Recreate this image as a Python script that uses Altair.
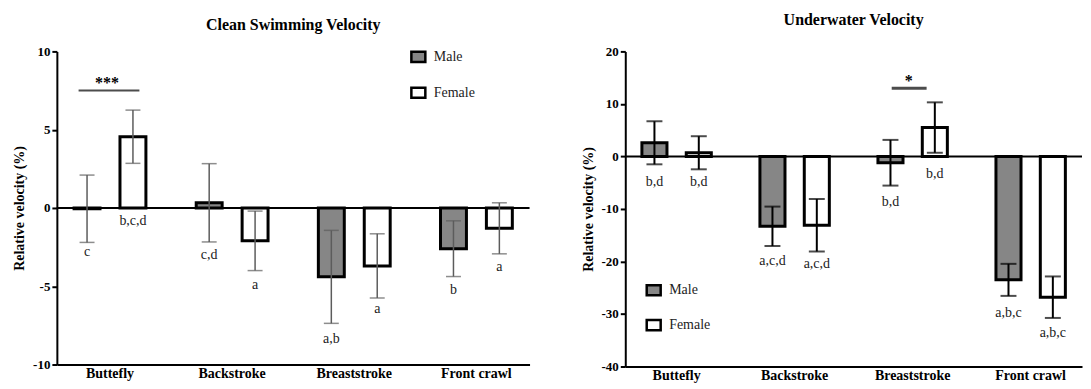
import altair as alt
import pandas as pd

strokes = ["Buttefly", "Backstroke", "Breaststroke", "Front crawl"]
sexes = ["Male", "Female"]

# Clean Swimming Velocity
clean_male_mean = [-0.05, 0.33, -4.4, -2.6]
clean_male_sd = [2.15, 2.5, 2.97, 1.78]
clean_female_mean = [4.55, -2.1, -3.7, -1.3]
clean_female_sd = [1.7, 1.9, 2.05, 1.63]
clean_male_letters = ["c", "c,d", "a,b", "b"]
clean_female_letters = ["b,c,d", "a", "a", "a"]
clean_male_letter_y = [-2.82, -3.0, -8.34, -5.27]
clean_female_letter_y = [-0.81, -4.9, -6.48, -3.78]
clean_ticks = [10, 5, 0, -5, -10]

# Underwater Velocity
under_male_mean = [2.6, -13.3, -1.2, -23.5]
under_male_sd = [4.1, 3.75, 4.35, 3.05]
under_female_mean = [0.7, -13.1, 5.5, -26.8]
under_female_sd = [3.15, 5.0, 4.8, 3.95]
under_male_letters = ["b,d", "a,c,d", "b,d", "a,b,c"]
under_female_letters = ["b,d", "a,c,d", "b,d", "a,b,c"]
under_male_letter_y = [-4.8, -20.0, -8.6, -29.8]
under_female_letter_y = [-4.8, -20.4, -3.25, -33.6]
under_ticks = [20, 10, 0, -10, -20, -30, -40]

SERIF = "Liberation Serif"


def build_df(mm, ms, fm, fs, ml, fl, mly, fly):
    rows = []
    for i, s in enumerate(strokes):
        rows.append(dict(stroke=s, sex="Male", mean=mm[i], lo=mm[i] - ms[i], hi=mm[i] + ms[i],
                         letter=ml[i], ly=mly[i]))
        rows.append(dict(stroke=s, sex="Female", mean=fm[i], lo=fm[i] - fs[i], hi=fm[i] + fs[i],
                         letter=fl[i], ly=fly[i]))
    return pd.DataFrame(rows)


def panel(title, df, ydomain, yticks, width, height, err_color, err_w, cap_size,
          sig_group, sig_y, sig_len, sig_dx, sig_thick, star_text, star_y, star_dx,
          leg_x, leg_y, leg_pad, title_offset):
    yscale = alt.Scale(domain=ydomain, nice=False, zero=False)
    yaxis = alt.Axis(values=yticks, title="Relative velocity (%)", labelExpr="'' + datum.value",
                     domainColor="black", domainWidth=2, tickColor="black", tickWidth=2,
                     tickSize=5, labelFont=SERIF, labelFontWeight="bold", labelFontSize=13,
                     labelColor="black", labelPadding=2, titleFont=SERIF, titleFontSize=14,
                     titleFontWeight="bold", titleColor="black", titlePadding=6)
    xscale = alt.Scale(domain=strokes, paddingInner=0.13, paddingOuter=0.0)
    xaxis = alt.Axis(title=None, ticks=False, domainColor="black", domainWidth=2,
                     labelFont=SERIF, labelFontWeight="bold", labelFontSize=14,
                     labelColor="black", labelPadding=2, labelAngle=0)
    X = alt.X("stroke:N", scale=xscale, axis=xaxis)
    XO = alt.XOffset("sex:N", scale=alt.Scale(domain=sexes, paddingInner=0.435, paddingOuter=0.375))

    base = alt.Chart(df)
    bars = base.mark_bar(stroke="black", strokeWidth=3).encode(
        x=X, xOffset=XO,
        y=alt.Y("mean:Q", scale=yscale, axis=yaxis),
        fill=alt.Fill("sex:N", scale=alt.Scale(domain=sexes, range=["#868686", "#ffffff"]),
                      legend=alt.Legend(title=None, orient="none", legendX=leg_x, legendY=leg_y,
                                        direction="vertical",
                                        symbolType="M-1,-0.72L1,-0.72L1,0.72L-1,0.72Z",
                                        symbolSize=196, symbolStrokeColor="black",
                                        symbolStrokeWidth=2.5, labelFont=SERIF, labelFontSize=14,
                                        labelColor="#222222", labelOffset=7, rowPadding=leg_pad)),
    )
    zero = alt.Chart(pd.DataFrame({"v": [0]})).mark_rule(color="black", strokeWidth=2).encode(
        y=alt.Y("v:Q", scale=yscale, axis=yaxis))
    err = base.mark_rule(color=err_color, strokeWidth=err_w).encode(
        x=X, xOffset=XO, y=alt.Y("lo:Q", scale=yscale, axis=yaxis), y2="hi:Q")
    cap_lo = base.mark_tick(color=err_color, size=cap_size, thickness=err_w, orient="horizontal").encode(
        x=X, xOffset=XO, y=alt.Y("lo:Q", scale=yscale, axis=yaxis))
    cap_hi = base.mark_tick(color=err_color, size=cap_size, thickness=err_w, orient="horizontal").encode(
        x=X, xOffset=XO, y=alt.Y("hi:Q", scale=yscale, axis=yaxis))
    letters = base.mark_text(font=SERIF, fontSize=14, color="#222222", baseline="middle").encode(
        x=X, xOffset=XO, y=alt.Y("ly:Q", scale=yscale, axis=yaxis), text="letter:N")
    sig_df = pd.DataFrame({"stroke": [sig_group], "y": [sig_y], "sy": [star_y], "t": [star_text]})
    sig_line = alt.Chart(sig_df).mark_tick(color="black", size=sig_len, thickness=sig_thick,
                                           orient="horizontal", xOffset=sig_dx).encode(
        x=X, y=alt.Y("y:Q", scale=yscale, axis=yaxis))
    sig_star = alt.Chart(sig_df).mark_text(font=SERIF, fontSize=16, fontWeight="bold", color="black",
                                           baseline="alphabetic", dx=star_dx).encode(
        x=X, y=alt.Y("sy:Q", scale=yscale, axis=yaxis), text="t:N")

    return alt.layer(bars, zero, err, cap_lo, cap_hi, letters, sig_line, sig_star).properties(
        width=width, height=height,
        title=alt.TitleParams(title, font=SERIF, fontSize=16, fontWeight="bold", color="black",
                              anchor="middle", offset=title_offset),
    )


clean_df = build_df(clean_male_mean, clean_male_sd, clean_female_mean, clean_female_sd,
                    clean_male_letters, clean_female_letters, clean_male_letter_y, clean_female_letter_y)
under_df = build_df(under_male_mean, under_male_sd, under_female_mean, under_female_sd,
                    under_male_letters, under_female_letters, under_male_letter_y, under_female_letter_y)

left = panel("Clean Swimming Velocity", clean_df, [-10, 10], clean_ticks, 474, 314,
             "#5c5c5c", 1.5, 15, "Buttefly", 7.5, 61, -1, 2, "***", 7.65, -3,
             354, -3, 15, 12)
right = panel("Underwater Velocity", under_df, [-40, 20], under_ticks, 458, 316,
              "black", 2, 16, "Breaststroke", 13.0, 35, -3.5, 3, "*", 13.4, -4,
              20, 231, 14, 17)

chart = alt.hconcat(left, right, spacing=50).resolve_scale(
    x="independent", y="independent", fill="independent", xOffset="independent"
).resolve_legend(fill="independent").properties(
    padding={"left": 4, "top": 4, "right": 0, "bottom": 0}
).configure_view(stroke=None).configure_axis(grid=False)

chart.save("out.html", embed_options={"renderer": "svg", "actions": False})
